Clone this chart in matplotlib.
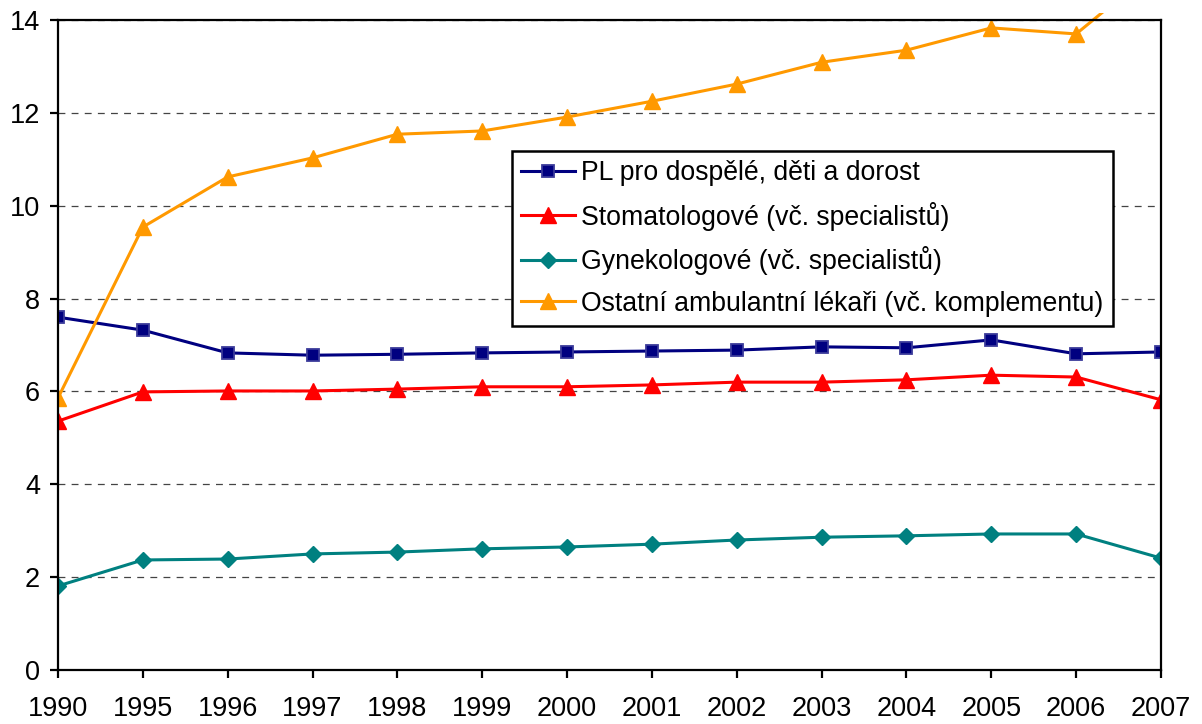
import matplotlib
matplotlib.use("Agg")
import matplotlib.pyplot as plt
from matplotlib.patches import Rectangle

plt.rcParams['font.family'] = ['Liberation Sans', 'DejaVu Sans']

# data
years = ['1990', '1995', '1996', '1997', '1998', '1999', '2000',
         '2001', '2002', '2003', '2004', '2005', '2006', '2007']
pl = [7.60, 7.32, 6.83, 6.78, 6.80, 6.83, 6.85, 6.87, 6.89, 6.96, 6.94, 7.11, 6.81, 6.85]
stoma = [5.36, 5.99, 6.01, 6.01, 6.05, 6.10, 6.10, 6.14, 6.20, 6.20, 6.25, 6.35, 6.31, 5.82]
gyn = [1.81, 2.37, 2.39, 2.50, 2.54, 2.61, 2.65, 2.71, 2.80, 2.86, 2.89, 2.93, 2.93, 2.41]
ostatni = [5.86, 9.54, 10.62, 11.03, 11.54, 11.61, 11.91, 12.25, 12.62, 13.09, 13.35, 13.83, 13.70, 15.2]

labels = ['PL pro dospělé, děti a dorost',
          'Stomatologové (vč. specialistů)',
          'Gynekologové (vč. specialistů)',
          'Ostatní ambulantní lékaři (vč. komplementu)']

fig = plt.figure(figsize=(12.02, 7.24), dpi=100)
ax = fig.add_axes([58/1202, 1-670/724, 1103/1202, 650/724])

x = range(len(years))
l1, = ax.plot(x, pl, color='#000080', lw=2.2, marker='s', ms=8.5,
              mfc='#000080', mec='#3a3a9a', mew=1.3, label=labels[0])
l2, = ax.plot(x, stoma, color='#ff0000', lw=2.2, marker='^', ms=12, label=labels[1])
l3, = ax.plot(x, gyn, color='#008080', lw=2.2, marker='D', ms=8, label=labels[2])
l4, = ax.plot(x, ostatni, color='#ff9900', lw=2.2, marker='^', ms=12, label=labels[3])

# orange line runs a bit above the plot area before being cut
clip = Rectangle((0, 0), 1, 1.011, transform=ax.transAxes)
l4.set_clip_path(clip)

ax.set_xlim(0, len(years) - 1)
ax.set_ylim(0, 14)
ax.set_yticks(range(0, 15, 2))
ax.set_xticks(list(x))
ax.set_xticklabels(years)

ax.yaxis.grid(True, linestyle=(0, (5.5, 5)), color='#444444', lw=0.9)
ax.set_axisbelow(True)
for s in ax.spines.values():
    s.set_linewidth(1.6)
    s.set_color('black')
ax.tick_params(direction='out', length=6, width=1.6, labelsize=19.5)
ax.tick_params(axis='x', pad=13)
ax.tick_params(axis='y', pad=7)

leg = ax.legend(loc='upper left', bbox_to_anchor=(0.4116, 0.7985), borderaxespad=0,
                fontsize=19.2, frameon=True, fancybox=False, edgecolor='black',
                framealpha=1, handlelength=2.0, handletextpad=0.25,
                labelspacing=0.58, borderpad=0.35)
leg.get_frame().set_linewidth(1.8)

fig.savefig('out.png', dpi=100)
